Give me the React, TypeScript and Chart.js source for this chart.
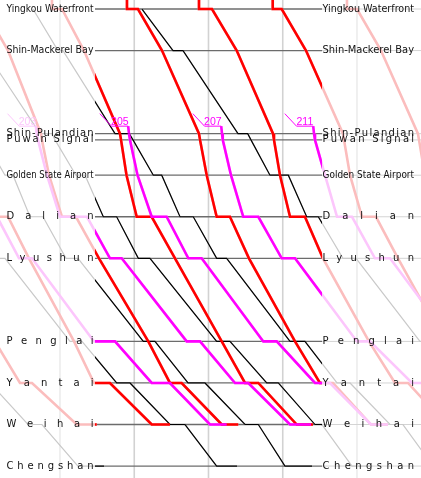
import React, { useEffect, useRef } from "react";
import { Chart, registerables } from "chart.js";

Chart.register(...registerables);

// [station index, minute]; station index -1 = approach from above Yingkou
type Stop = [number, number];

const STATIONS = [
  "Yingkou Waterfront",
  "Shin-Mackerel Bay",
  "Shin-Pulandian",
  "Puwan Signal",
  "Golden State Airport",
  "Dalian",
  "Lyushun",
  "Penglai",
  "Yantai",
  "Weihai",
  "Chengshan",
];
const STATION_KM = [0, 10, 30, 31.5, 40, 50, 60, 80, 90, 100, 110];
const APPROACH_KM = -3;

const GRID_MINUTES = [10, 20, 30, 40, 50];
const TIME_MIN = 1.92;
const TIME_MAX = 58.62;
const KM_MIN = -2.17;
const KM_MAX = 112.87;
const FOCUS_FROM = 14.71;
const FOCUS_TO = 45.29;

// ---- Limited express (red) ----
const RED_Y: Stop[] = [[6, -4.8], [7, 1.25], [8, 4.61], [8, 6.23], [9, 12.25], [9, 14.95]];
const RED_Z: Stop[] = [[4, -0.24], [5, 1.11], [5, 3.0], [6, 5.82], [7, 11.89], [8, 14.58], [8, 16.73], [9, 22.35], [9, 24.81]];
const RED_D: Stop[] = [[-1, -1.72], [0, -1.72], [0, -0.24], [1, 3.0], [2, 7.44], [3, 7.57], [4, 8.52], [5, 10.27], [5, 12.15], [6, 15.25], [7, 21.89], [8, 24.81], [8, 26.39], [9, 31.78], [9, 34.01]];
const RED_A: Stop[] = [[-1, 8.92], [0, 8.92], [0, 10.27], [1, 13.23], [2, 18.08], [3, 18.22], [4, 18.96], [5, 20.33], [5, 22.35], [6, 25.49], [7, 31.78], [8, 34.92], [8, 36.71], [9, 41.88], [9, 44.07]];
const RED_B: Stop[] = [[-1, 19.02], [0, 19.02], [0, 20.5], [1, 23.74], [2, 28.72], [3, 28.86], [4, 29.76], [5, 31.1], [5, 32.89], [6, 35.45], [7, 41.65], [8, 45.01], [8, 46.77], [9, 51.88], [9, 54.17]];
const RED_C: Stop[] = [[-1, 28.72], [0, 28.72], [0, 30.47], [1, 33.8], [2, 38.69], [3, 38.82], [4, 39.63], [5, 40.98], [5, 42.99], [6, 45.42], [7, 51.61], [8, 55.12], [8, 56.87], [9, 61.99], [9, 64.28]];
const RED_E: Stop[] = [[-1, 38.65], [0, 38.65], [0, 39.86], [1, 43.13], [2, 48.11], [3, 48.25], [4, 49.06], [5, 50.67], [5, 52.56], [6, 55.52], [7, 61.72]];
const RED_F: Stop[] = [[-1, 48.65], [0, 48.65], [0, 50.0], [1, 53.23], [2, 58.21], [3, 58.35], [4, 59.16], [5, 60.5]];

// ---- Rapid (magenta) ----
const MAG_201: Stop[] = [[5, -0.51], [5, 1.52], [6, 4.48], [6, 6.23], [7, 14.58], [7, 17.41], [8, 22.35], [8, 24.81], [9, 30.2], [9, 32.45]];
const MAG_203: Stop[] = [[2, 6.86], [3, 7.04], [4, 8.25], [5, 10.0], [5, 13.64], [6, 16.73], [6, 18.31], [7, 27.06], [7, 28.86], [8, 33.57], [8, 35.36], [9, 40.98], [9, 43.8]];
const MAG_205: Stop[] = [[2, 19.29], [3, 19.43], [4, 20.44], [5, 22.35], [5, 24.37], [6, 27.28], [6, 29.08], [7, 37.38], [7, 39.19], [8, 44.34], [8, 46.36], [9, 51.88], [9, 54.17]];
const MAG_207: Stop[] = [[2, 31.82], [3, 31.92], [4, 33.03], [5, 34.68], [5, 36.71], [6, 39.86], [6, 41.65], [7, 50.0], [7, 51.75], [8, 57.41], [8, 59.16], [9, 64.68]];
const MAG_211: Stop[] = [[2, 44.21], [3, 44.34], [4, 45.69], [5, 47.31], [5, 49.33], [6, 52.42], [6, 54.45], [7, 62.8]];
const MAGENTA_NUMBERS = ["201", "203", "205", "207", "211"];

// ---- Local (black) ----
const LOC_F: Stop[] = [[8, -1.04], [8, 0.57], [9, 5.69], [9, 7.57], [10, 12.42], [10, 15.93]];
const LOC_E: Stop[] = [[6, 1.25], [6, 2.59], [7, 11.35], [7, 12.96], [8, 17.63], [8, 19.43], [9, 24.81], [9, 26.84], [10, 31.1], [10, 33.84]];
const LOC_D: Stop[] = [[2, -0.64], [3, -0.14], [4, 2.59], [4, 3.67], [5, 5.96], [5, 7.71], [6, 10.81], [6, 12.42], [7, 21.22], [7, 22.79], [8, 27.24], [8, 29.53], [9, 34.92], [9, 36.71], [10, 40.3], [10, 43.94]];
const LOC_C: Stop[] = [[1, -1.45], [1, -0.1], [2, 7.31], [2, 8.92], [3, 9.33], [4, 12.15], [4, 13.37], [5, 15.83], [5, 17.63], [6, 20.55], [6, 22.12], [7, 31.1], [7, 32.89], [8, 37.84], [8, 39.4], [9, 44.34], [9, 45.29], [10, 49.33], [10, 52.02]];
const LOC_B: Stop[] = [[0, 6.36], [1, 9.73], [1, 10.4], [2, 17.41], [2, 19.33], [3, 19.83], [4, 22.57], [4, 23.7], [5, 26.16], [5, 27.95], [6, 31.1], [6, 32.45], [7, 40.98], [7, 42.99], [8, 47.31], [8, 49.06], [9, 54.45], [9, 56.19], [10, 60.23]];
const LOC_A: Stop[] = [[0, 21.04], [1, 25.22], [1, 26.57], [2, 33.97], [2, 35.28], [3, 35.72], [4, 38.28], [4, 40.75], [5, 43.22], [5, 44.79], [6, 48.11], [6, 49.87], [7, 58.48], [7, 60.23]];

const RED_TRAINS = [RED_Y, RED_Z, RED_D, RED_A, RED_B, RED_C, RED_E, RED_F];
const MAGENTA_TRAINS = [MAG_201, MAG_203, MAG_205, MAG_207, MAG_211];
const LOCAL_TRAINS = [LOC_F, LOC_E, LOC_D, LOC_C, LOC_B, LOC_A];

const RED = "#ff0000";
const RED_FADED = "#fbbdbd";
const MAGENTA = "#ff00ff";
const MAGENTA_FADED = "#fcc6fc";
const BLACK = "#000000";
const BLACK_FADED = "#c9c9c9";

const toPoints = (stops: Stop[]) =>
  stops.map(([s, t]) => ({ x: t, y: s < 0 ? APPROACH_KM : STATION_KM[s] }));

function buildDatasets() {
  const kinds = [
    { trains: MAGENTA_TRAINS, color: MAGENTA, faded: MAGENTA_FADED, width: 2.6, order: 1, fadedOrder: 11 },
    { trains: RED_TRAINS, color: RED, faded: RED_FADED, width: 2.6, order: 2, fadedOrder: 12 },
    { trains: LOCAL_TRAINS, color: BLACK, faded: BLACK_FADED, width: 1.2, order: 3, fadedOrder: 13 },
  ];
  const out: any[] = [];
  kinds.forEach((k) => {
    k.trains.forEach((stops) => {
      const data = toPoints(stops);
      const common = {
        data,
        showLine: true,
        pointRadius: 0,
        pointHoverRadius: 0,
        borderWidth: k.width,
        tension: 0,
        fill: false,
      };
      out.push({ ...common, borderColor: k.faded, backgroundColor: k.faded, order: k.fadedOrder });
      out.push({ ...common, borderColor: k.color, backgroundColor: k.color, order: k.order, focus: true });
    });
  });
  return out;
}

const focusClip = {
  id: "focusClip",
  beforeDatasetDraw(chart: any, args: any) {
    const ds = chart.data.datasets[args.index];
    if (!ds.focus) return;
    const xs = chart.scales.x;
    const a = chart.chartArea;
    const l = xs.getPixelForValue(FOCUS_FROM);
    const r = xs.getPixelForValue(FOCUS_TO);
    const ctx = chart.ctx;
    ctx.save();
    ctx.beginPath();
    ctx.rect(l, a.top - 5, r - l, a.bottom - a.top + 10);
    ctx.clip();
  },
  afterDatasetDraw(chart: any, args: any) {
    const ds = chart.data.datasets[args.index];
    if (!ds.focus) return;
    chart.ctx.restore();
  },
};

const background = {
  id: "diagramBackground",
  beforeDatasetsDraw(chart: any) {
    const ctx = chart.ctx;
    const xs = chart.scales.x;
    const ys = chart.scales.y;
    const a = chart.chartArea;
    const l = xs.getPixelForValue(FOCUS_FROM);
    const r = xs.getPixelForValue(FOCUS_TO);
    ctx.save();
    GRID_MINUTES.forEach((m) => {
      const px = xs.getPixelForValue(m);
      const inside = px > l && px < r;
      ctx.strokeStyle = inside ? "#d2d2d2" : "#ececec";
      ctx.lineWidth = 1.6;
      ctx.beginPath();
      ctx.moveTo(px, a.top);
      ctx.lineTo(px, a.bottom);
      ctx.stroke();
    });
    STATION_KM.forEach((km) => {
      const py = ys.getPixelForValue(km);
      ctx.strokeStyle = "#d4d4d4";
      ctx.lineWidth = 1;
      ctx.beginPath();
      ctx.moveTo(r, py);
      ctx.lineTo(a.right, py);
      ctx.stroke();
      ctx.strokeStyle = "#6c6c6c";
      ctx.lineWidth = 1.3;
      ctx.beginPath();
      ctx.moveTo(l, py);
      ctx.lineTo(r, py);
      ctx.stroke();
    });
    ctx.restore();
  },
};

function drawFitted(ctx: CanvasRenderingContext2D, text: string, x0: number, width: number, y: number) {
  ctx.font = '10px "DejaVu Sans", sans-serif';
  ctx.textBaseline = "middle";
  ctx.textAlign = "left";
  const w = ctx.measureText(text).width;
  if (w >= width) {
    ctx.fillText(text, x0, y, width);
    return;
  }
  const chars = Array.from(text);
  const widths = chars.map((c) => ctx.measureText(c).width);
  const total = widths.reduce((s, v) => s + v, 0);
  const gap = chars.length > 1 ? (width - total) / (chars.length - 1) : 0;
  let x = x0;
  chars.forEach((c, i) => {
    ctx.fillText(c, x, y);
    x += widths[i] + gap;
  });
}

const labels = {
  id: "diagramLabels",
  afterDatasetsDraw(chart: any) {
    const ctx = chart.ctx;
    const xs = chart.scales.x;
    const ys = chart.scales.y;
    const l = xs.getPixelForValue(FOCUS_FROM);
    const r = xs.getPixelForValue(FOCUS_TO);
    ctx.save();
    ctx.fillStyle = "#111111";
    STATIONS.forEach((name, i) => {
      const py = ys.getPixelForValue(STATION_KM[i]);
      drawFitted(ctx, name, l - 88.5, 87, py);
      drawFitted(ctx, name, r + 0.5, 91.5, py);
    });
    // train numbers of the rapid trains at their origin
    MAGENTA_TRAINS.forEach((stops, i) => {
      const [s, t] = stops[0];
      const px = xs.getPixelForValue(t);
      const py = ys.getPixelForValue(STATION_KM[s]);
      const inside = px > l && px < r;
      const col = inside ? MAGENTA : MAGENTA_FADED;
      const uy = py - 7.5;
      const ux1 = px - 0.8;
      const ux0 = px - 17.5;
      ctx.strokeStyle = col;
      ctx.lineWidth = 1;
      ctx.beginPath();
      ctx.moveTo(ux0 - 11.7, uy - 12.5);
      ctx.lineTo(ux0, uy);
      ctx.lineTo(ux1, uy);
      ctx.stroke();
      ctx.lineWidth = 2.6;
      ctx.beginPath();
      ctx.moveTo(ux1, uy);
      ctx.lineTo(px, py);
      ctx.stroke();
      ctx.fillStyle = col;
      ctx.font = '10.5px "Liberation Sans", sans-serif';
      ctx.textAlign = "center";
      ctx.textBaseline = "alphabetic";
      ctx.fillText(MAGENTA_NUMBERS[i], (ux0 + ux1) / 2, uy - 1.5);
    });
    ctx.restore();
  },
};

export default function App() {
  const ref = useRef<HTMLCanvasElement | null>(null);
  useEffect(() => {
    document.body.style.margin = "0";
    const canvas = ref.current;
    if (!canvas) return;
    const chart = new Chart(canvas, {
      type: "scatter",
      data: { datasets: buildDatasets() },
      options: {
        animation: false,
        responsive: false,
        devicePixelRatio: 1,
        events: [],
        layout: { padding: 0 },
        plugins: { legend: { display: false }, tooltip: { enabled: false } },
        scales: {
          x: { type: "linear", min: TIME_MIN, max: TIME_MAX, display: false },
          y: { type: "linear", min: KM_MIN, max: KM_MAX, reverse: true, display: false },
        },
      },
      plugins: [background, focusClip, labels],
    } as any);
    return () => chart.destroy();
  }, []);
  return (
    <div style={{ width: 421, height: 478, background: "#ffffff" }}>
      <canvas ref={ref} width={421} height={478} style={{ display: "block" }} />
    </div>
  );
}
